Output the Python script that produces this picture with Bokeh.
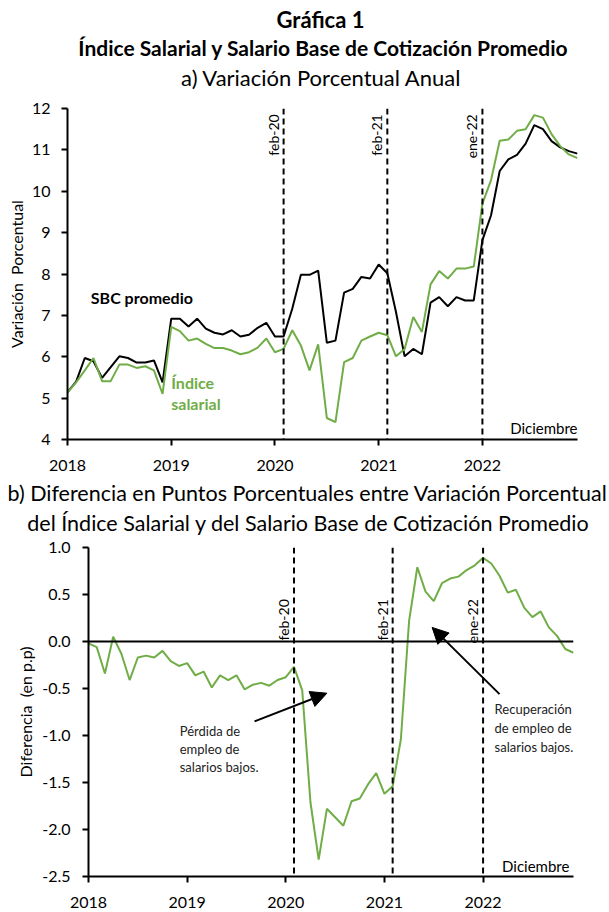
from math import pi
from bokeh.plotting import figure
from bokeh.models import (Range1d, FixedTicker, Span, Label, Arrow, NormalHead,
                          NumeralTickFormatter)
from bokeh.layouts import column
from bokeh.embed import file_html
from bokeh.resources import INLINE
from bokeh.core.validation import silence
from bokeh.core.validation.warnings import MISSING_RENDERERS

silence(MISSING_RENDERERS, True)

# ---------------- data ----------------
years = ["2018", "2019", "2020", "2021", "2022"]
year_start_idx = [0, 12, 24, 36, 48]

sbc_promedio = [5.14, 5.40, 5.97, 5.89, 5.49, 5.75, 6.01, 5.97, 5.86, 5.86, 5.91, 5.38,
                6.92, 6.92, 6.73, 6.92, 6.68, 6.58, 6.54, 6.64, 6.49, 6.53, 6.70, 6.82,
                6.49, 6.49, 7.16, 7.98, 7.98, 8.08, 6.34, 6.39, 7.55, 7.64, 7.93, 7.89,
                8.23, 8.02, 7.08, 6.01, 6.19, 6.06, 7.31, 7.44, 7.22, 7.44, 7.36, 7.36,
                8.82, 9.42, 10.49, 10.77, 10.88, 11.15, 11.60, 11.50, 11.21, 11.06, 10.97, 10.91]

indice_salarial = [5.14, 5.38, 5.67, 5.97, 5.41, 5.41, 5.81, 5.81, 5.73, 5.77, 5.67, 5.10,
                   6.72, 6.62, 6.39, 6.44, 6.31, 6.21, 6.21, 6.15, 6.06, 6.11, 6.22, 6.44,
                   6.11, 6.19, 6.64, 6.27, 5.67, 6.30, 4.52, 4.42, 5.87, 5.97, 6.39, 6.49,
                   6.58, 6.52, 6.01, 6.19, 6.96, 6.60, 7.75, 8.07, 7.89, 8.13, 8.13, 8.18,
                   9.70, 10.27, 11.22, 11.25, 11.46, 11.50, 11.84, 11.78, 11.38, 11.09, 10.89, 10.80]

diferencia_pp = [-0.02, -0.06, -0.34, 0.05, -0.13, -0.41, -0.17, -0.15, -0.17, -0.10, -0.21, -0.26,
                 -0.23, -0.36, -0.32, -0.49, -0.36, -0.41, -0.36, -0.51, -0.46, -0.44, -0.47, -0.41,
                 -0.38, -0.27, -0.52, -1.71, -2.32, -1.78, -1.87, -1.96, -1.70, -1.67, -1.52, -1.40,
                 -1.62, -1.54, -1.04, 0.22, 0.79, 0.53, 0.43, 0.62, 0.67, 0.69, 0.76, 0.81,
                 0.89, 0.83, 0.70, 0.52, 0.55, 0.36, 0.26, 0.32, 0.15, 0.06, -0.08, -0.12]

events = ["feb-20", "feb-21", "ene-22"]
event_idx = [25, 37, 48]

ticks_a = [4, 5, 6, 7, 8, 9, 10, 11, 12]
ticks_b = [-2.5, -2.0, -1.5, -1.0, -0.5, 0.0, 0.5, 1.0]

# ---------------- styles ----------------
FONT = "Lato"
GREEN = "#70AD47"
W = 609
months = list(range(len(sbc_promedio)))


def header(height, lines):
    h = figure(width=W, height=height, output_backend="svg", toolbar_location=None,
               x_axis_location=None, y_axis_location=None, min_border=0,
               frame_align=False)
    h.outline_line_color = None
    h.xgrid.visible = False
    h.ygrid.visible = False
    for text, xc, yc, size, style in lines:
        h.add_layout(Label(x=xc, y=yc, x_units="screen", y_units="screen", text=text,
                           text_font=FONT, text_font_size=size, text_font_style=style,
                           text_color="black", text_align="center", text_baseline="middle"))
    return h


def style_axes(p, ylabel, yticks, ystandoff, lstandoff):
    for ax in (p.xaxis[0], p.yaxis[0]):
        ax.axis_line_color = "black"
        ax.axis_line_width = 2
        ax.major_tick_line_color = "black"
        ax.major_tick_line_width = 2
        ax.major_tick_out = 6
        ax.major_tick_in = 0
        ax.minor_tick_line_color = None
        ax.major_label_text_font = FONT
        ax.major_label_text_font_size = "16px"
        ax.major_label_text_color = "black"
    p.xaxis.ticker = FixedTicker(ticks=year_start_idx)
    p.xaxis.major_label_overrides = {i: y for i, y in zip(year_start_idx, years)}
    p.xaxis.major_label_standoff = 14
    p.yaxis.ticker = FixedTicker(ticks=yticks)
    p.yaxis.major_label_standoff = ystandoff
    p.yaxis.axis_label = ylabel
    p.yaxis.axis_label_text_font = FONT
    p.yaxis.axis_label_text_font_size = "16px"
    p.yaxis.axis_label_text_font_style = "normal"
    p.yaxis.axis_label_text_color = "black"
    p.yaxis.axis_label_standoff = lstandoff
    p.xgrid.visible = False
    p.ygrid.visible = False
    p.outline_line_color = None


def add_events(p, ytop):
    for idx, name in zip(event_idx, events):
        p.add_layout(Span(location=idx, dimension="height", line_color="black",
                          line_width=2, line_dash="6 4"))
        p.add_layout(Label(x=idx, y=ytop, text=name, angle=pi / 2, text_align="right",
                           text_baseline="bottom", x_offset=-2, text_font=FONT,
                           text_font_size="14px", text_color="black"))


# ---------------- header a ----------------
ha = header(90, [
    ("Gráfica 1", 320, 71, "22px", "bold"),
    ("Índice Salarial y Salario Base de Cotización Promedio", 323, 43, "21px", "bold"),
    ("a) Variación Porcentual Anual", 321, 13, "22px", "normal"),
])

# ---------------- panel a ----------------
pa = figure(width=W, height=388, x_range=Range1d(0, 59), y_range=Range1d(4, 12),
            output_backend="svg", toolbar_location=None, frame_align=False,
            min_border_left=67, min_border_right=32, min_border_top=18,
            min_border_bottom=39)
style_axes(pa, "Variación\u00a0 Porcentual", ticks_a, 11, 3)
add_events(pa, 11.86)

pa.line(months, sbc_promedio, line_color="black", line_width=2)
pa.line(months, indice_salarial, line_color=GREEN, line_width=2)

pa.add_layout(Label(x=2.7, y=7.44, text="SBC promedio", text_font=FONT, text_font_size="16px",
                    text_font_style="bold", text_color="black", text_baseline="middle"))
pa.add_layout(Label(x=12.0, y=5.38, text="Índice", text_font=FONT, text_font_size="16px",
                    text_font_style="bold", text_color=GREEN, text_baseline="middle"))
pa.add_layout(Label(x=12.0, y=4.87, text="salarial", text_font=FONT, text_font_size="16px",
                    text_font_style="bold", text_color=GREEN, text_baseline="middle"))
pa.add_layout(Label(x=59, y=4.29, text="Diciembre", text_font=FONT, text_font_size="15px",
                    text_color="black", text_align="right", text_baseline="middle"))

# ---------------- header b ----------------
hb = header(58, [
    ("b) Diferencia en Puntos Porcentuales entre Variación Porcentual", 307, 44, "21.5px", "normal"),
    ("del Índice Salarial y del Salario Base de Cotización Promedio", 308, 14, "21.5px", "normal"),
])

# ---------------- panel b ----------------
pb = figure(width=W, height=376, x_range=Range1d(0, 59), y_range=Range1d(-2.5, 1.0),
            output_backend="svg", toolbar_location=None, frame_align=False,
            min_border_left=88, min_border_right=36, min_border_top=11,
            min_border_bottom=36)
style_axes(pb, "Diferencia\u00a0 (en p.p)", ticks_b, 12, 4)
pb.yaxis.formatter = NumeralTickFormatter(format="0.0")
pb.add_layout(Span(location=0, dimension="width", line_color="black", line_width=2))
add_events(pb, 0.45)

pb.line(months, diferencia_pp, line_color=GREEN, line_width=2)

pb.add_layout(Arrow(end=NormalHead(size=16, fill_color="black", line_color="black"),
                    x_start=20.2, y_start=-0.85, x_end=29.0, y_end=-0.55,
                    line_color="black", line_width=2))
pb.add_layout(Arrow(end=NormalHead(size=16, fill_color="black", line_color="black"),
                    x_start=50.0, y_start=-0.56, x_end=41.8, y_end=0.15,
                    line_color="black", line_width=2))

for k, t in enumerate(["Pérdida de", "empleo de", "salarios bajos."]):
    pb.add_layout(Label(x=11.1, y=-0.95 - k * 0.19, text=t, text_font=FONT,
                        text_font_size="13px", text_color="#222222", text_baseline="middle"))
for k, t in enumerate(["Recuperación", "de empleo de", "salarios bajos."]):
    pb.add_layout(Label(x=49.4, y=-0.72 - k * 0.2, text=t, text_font=FONT,
                        text_font_size="13px", text_color="#222222", text_baseline="middle"))
pb.add_layout(Label(x=58.5, y=-2.39, text="Diciembre", text_font=FONT, text_font_size="15px",
                    text_color="black", text_align="right", text_baseline="middle"))

layout = column(ha, pa, hb, pb)
open("out.html", "w").write(file_html(layout, INLINE))
